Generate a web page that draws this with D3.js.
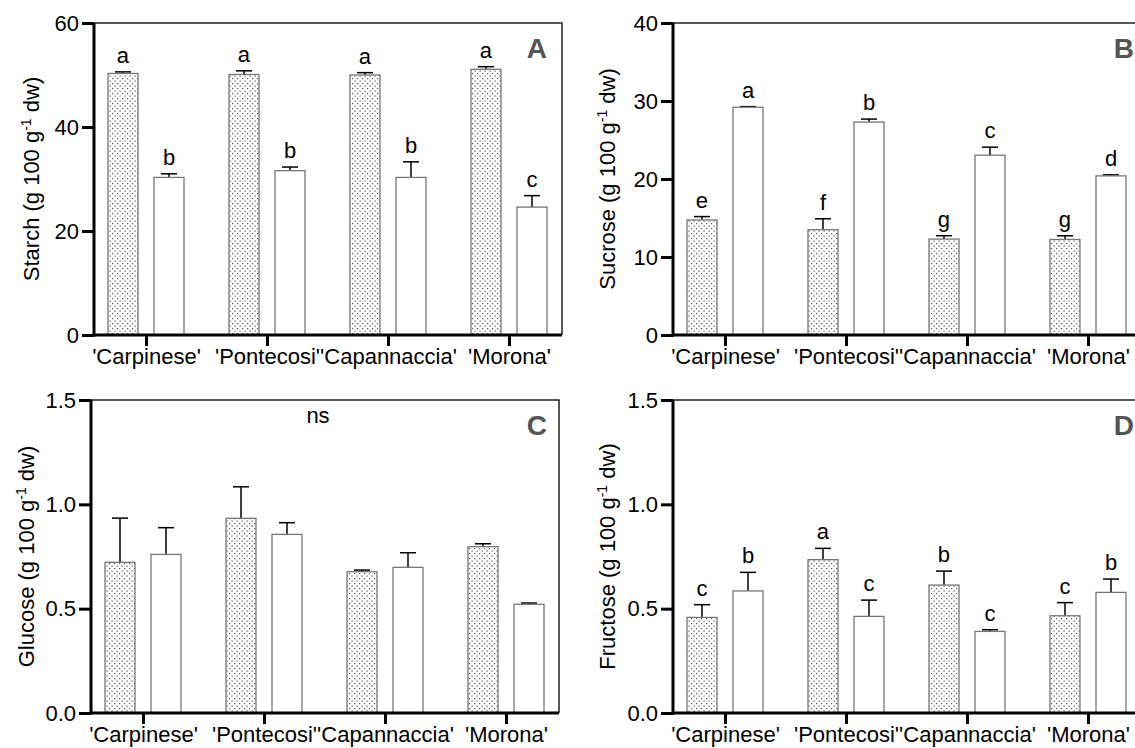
<!DOCTYPE html>
<html>
<head>
<meta charset="utf-8">
<script src="https://cdn.jsdelivr.net/npm/d3@7"></script>
<style>
  html, body { margin: 0; padding: 0; background: #fff; }
  svg { display: block; font-family: "Liberation Sans", Arial, sans-serif; }
</style>
</head>
<body>
<svg id="chart" width="1135" height="748"></svg>
<script>
// cultivars on the x axis
const categories = ["'Carpinese'", "'Pontecosi'", "'Capannaccia'", "'Morona'"];

// A - starch
const starchDotted = [50.3, 50.1, 50.0, 51.1];
const starchDottedErr = [0.3, 0.7, 0.45, 0.5];
const starchWhite = [30.3, 31.6, 30.3, 24.6];
const starchWhiteErr = [0.7, 0.7, 3.0, 2.2];
const starchLetters = [["a", "b"], ["a", "b"], ["a", "b"], ["a", "c"]];
const starchTicks = [0, 20, 40, 60];

// B - sucrose
const sucroseDotted = [14.75, 13.5, 12.3, 12.25];
const sucroseDottedErr = [0.43, 1.4, 0.43, 0.47];
const sucroseWhite = [29.2, 27.3, 23.05, 20.4];
const sucroseWhiteErr = [0.08, 0.38, 1.03, 0.13];
const sucroseLetters = [["e", "a"], ["f", "b"], ["g", "c"], ["g", "d"]];
const sucroseTicks = [0, 10, 20, 30, 40];

// C - glucose
const glucoseDotted = [0.722, 0.933, 0.677, 0.797];
const glucoseDottedErr = [0.212, 0.151, 0.008, 0.014];
const glucoseWhite = [0.760, 0.856, 0.698, 0.521];
const glucoseWhiteErr = [0.128, 0.056, 0.07, 0.006];
const glucoseTicks = [0, 0.5, 1.0, 1.5];

// D - fructose
const fructoseDotted = [0.458, 0.735, 0.613, 0.466];
const fructoseDottedErr = [0.061, 0.054, 0.067, 0.063];
const fructoseWhite = [0.585, 0.463, 0.391, 0.578];
const fructoseWhiteErr = [0.089, 0.078, 0.008, 0.064];
const fructoseLetters = [["c", "b"], ["a", "c"], ["b", "c"], ["c", "b"]];
const fructoseTicks = [0, 0.5, 1.0, 1.5];

const FONT = 22;
const svg = d3.select('#chart');

// stipple fill for the first bar of each pair
const defs = svg.append('defs');
const pat = defs.append('pattern')
	.attr('id', 'dots')
	.attr('width', 5).attr('height', 5)
	.attr('patternUnits', 'userSpaceOnUse');
pat.append('rect').attr('width', 5).attr('height', 5).attr('fill', '#fff');
pat.append('rect').attr('x', 0.5).attr('y', 0.5).attr('width', 1.2).attr('height', 1.2).attr('fill', '#555');
pat.append('rect').attr('x', 3).attr('y', 3).attr('width', 1.2).attr('height', 1.2).attr('fill', '#555');

const panels = [
	{ left: 94, top: 23, bottom: 335, title: 'Starch', label: 'A', labelX: 547, titleX: 31,
	  ticks: starchTicks, fmt: d3.format('d'),
	  dotted: starchDotted, dottedErr: starchDottedErr, white: starchWhite, whiteErr: starchWhiteErr,
	  letters: starchLetters },
	{ left: 673, top: 23, bottom: 335, title: 'Sucrose', label: 'B', labelX: 1134, titleX: 607,
	  ticks: sucroseTicks, fmt: d3.format('d'),
	  dotted: sucroseDotted, dottedErr: sucroseDottedErr, white: sucroseWhite, whiteErr: sucroseWhiteErr,
	  letters: sucroseLetters },
	{ left: 91, top: 400, bottom: 713, title: 'Glucose', label: 'C', labelX: 547, titleX: 26,
	  ticks: glucoseTicks, fmt: d3.format('.1f'),
	  dotted: glucoseDotted, dottedErr: glucoseDottedErr, white: glucoseWhite, whiteErr: glucoseWhiteErr,
	  letters: null, note: 'ns' },
	{ left: 673, top: 400, bottom: 713, title: 'Fructose', label: 'D', labelX: 1134, titleX: 607,
	  ticks: fructoseTicks, fmt: d3.format('.1f'),
	  dotted: fructoseDotted, dottedErr: fructoseDottedErr, white: fructoseWhite, whiteErr: fructoseWhiteErr,
	  letters: fructoseLetters },
];

const W = 468;

const drawPanel = (p) => {
	const g = svg.append('g').attr('transform', `translate(${p.left},0)`);
	const ymax = p.ticks[p.ticks.length - 1];

	const y = d3.scaleLinear().domain([0, ymax]).range([p.bottom, p.top]);
	const x = d3.scalePoint().domain(categories).range([52, 415]);
	const inner = d3.scaleBand().domain(['dotted', 'white']).range([-38, 38]).paddingInner(0.348);

	// top and right frame
	g.append('path')
		.attr('d', `M0,${p.top}H${W}V${p.bottom}`)
		.attr('fill', 'none').attr('stroke', '#222').attr('stroke-width', 1.5);

	const rows = categories.map((c, i) => ([
		{ c, i, kind: 'dotted', v: p.dotted[i], e: p.dottedErr[i], l: p.letters ? p.letters[i][0] : null },
		{ c, i, kind: 'white', v: p.white[i], e: p.whiteErr[i], l: p.letters ? p.letters[i][1] : null },
	])).flat();

	// error whiskers (upper only)
	const err = g.append('g').selectAll('g').data(rows).join('g')
		.attr('transform', d => `translate(${x(d.c) + inner(d.kind) + inner.bandwidth() / 2},0)`);
	err.append('line')
		.attr('y1', d => y(d.v)).attr('y2', d => y(d.v + d.e))
		.attr('stroke', '#000').attr('stroke-width', 1.5);
	err.append('line')
		.attr('x1', -8).attr('x2', 8)
		.attr('y1', d => y(d.v + d.e)).attr('y2', d => y(d.v + d.e))
		.attr('stroke', '#000').attr('stroke-width', 1.5);

	g.append('g').selectAll('rect').data(rows).join('rect')
		.attr('x', d => x(d.c) + inner(d.kind))
		.attr('width', inner.bandwidth())
		.attr('y', d => y(d.v))
		.attr('height', d => y(0) - y(d.v))
		.attr('fill', d => d.kind === 'dotted' ? 'url(#dots)' : '#fff')
		.attr('stroke', '#777').attr('stroke-width', 1.3);

	if (p.letters) {
		g.append('g').selectAll('text').data(rows).join('text')
			.attr('x', d => x(d.c) + inner(d.kind) + inner.bandwidth() / 2)
			.attr('y', d => y(d.v + d.e) - 9)
			.attr('text-anchor', 'middle')
			.attr('font-size', FONT)
			.text(d => d.l);
	}
	if (p.note) {
		g.append('text')
			.attr('x', 227).attr('y', p.top + 23)
			.attr('text-anchor', 'middle').attr('font-size', FONT)
			.text(p.note);
	}

	// y axis
	const yAxis = g.append('g')
		.call(d3.axisLeft(y).tickValues(p.ticks).tickFormat(p.fmt).tickSize(12).tickPadding(3));
	yAxis.select('.domain').attr('stroke-width', 3).attr('d', `M0,${p.top}V${p.bottom + 1.5}`);
	yAxis.selectAll('.tick line').attr('stroke-width', 3);
	yAxis.selectAll('.tick text').attr('font-size', FONT).attr('fill', '#000')
		.style('font-family', '"Liberation Sans", Arial, sans-serif');

	// x axis
	const xAxis = g.append('g')
		.attr('transform', `translate(0,${p.bottom})`)
		.call(d3.axisBottom(x).tickSize(11).tickPadding(2));
	xAxis.select('.domain').attr('stroke-width', 3).attr('d', `M0,0H${W}`);
	xAxis.selectAll('.tick line').attr('stroke-width', 3);
	xAxis.selectAll('.tick text').attr('font-size', FONT).attr('fill', '#000')
		.style('font-family', '"Liberation Sans", Arial, sans-serif');

	// y title with superscript
	const midY = (p.top + p.bottom) / 2;
	const t = svg.append('text')
		.attr('transform', `translate(${p.titleX + 8},${midY}) rotate(-90)`)
		.attr('text-anchor', 'middle')
		.attr('font-size', FONT);
	t.append('tspan').text(`${p.title} (g 100 g`);
	t.append('tspan').attr('baseline-shift', 'super').attr('font-size', 14).text('-1');
	t.append('tspan').text(' dw)');

	// panel letter
	svg.append('text')
		.attr('x', p.labelX).attr('y', p.top + 35)
		.attr('text-anchor', 'end')
		.attr('font-size', 28).attr('font-weight', 'bold').attr('fill', '#555')
		.text(p.label);
};

panels.forEach(drawPanel);
</script>
</body>
</html>
